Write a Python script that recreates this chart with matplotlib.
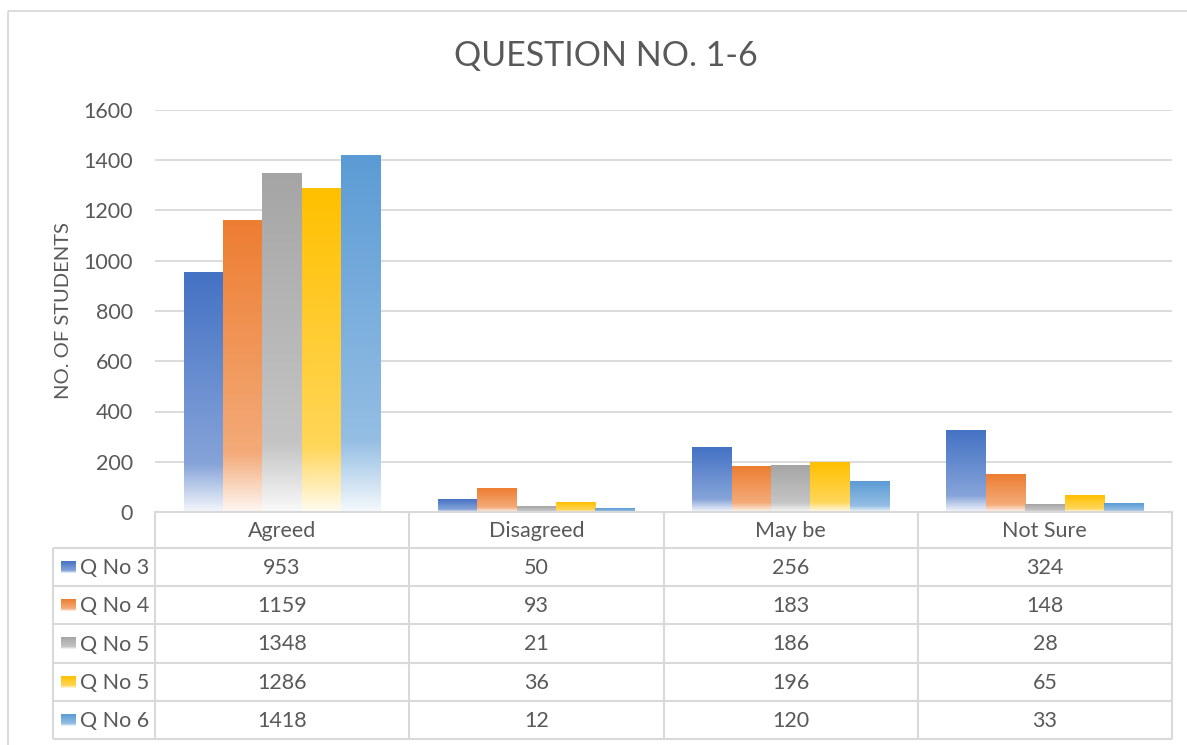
import matplotlib
matplotlib.use("Agg")
import matplotlib.pyplot as plt
import numpy as np
from matplotlib.colors import to_rgb
from matplotlib.patches import Rectangle

plt.rcParams["font.family"] = ["Lato", "DejaVu Sans"]

# data
categories = ["Agreed", "Disagreed", "May be", "Not Sure"]
series_names = ["Q No 3", "Q No 4", "Q No 5", "Q No 5", "Q No 6"]
q3 = [953, 50, 256, 324]
q4 = [1159, 93, 183, 148]
q5a = [1348, 21, 186, 28]
q5b = [1286, 36, 196, 65]
q6 = [1418, 12, 120, 33]
series_values = [q3, q4, q5a, q5b, q6]
colors = ["#4472C4", "#ED7D31", "#A5A5A5", "#FFC000", "#5B9BD5"]

TXT = "#595959"
GRID = "#d9d9d9"
W, H = 1187, 745
FS = 15.5


def gradient(color, n=256):
    """Excel-like fill: solid at top, light towards the bottom."""
    c = np.array(to_rgb(color))
    white = np.ones(3)
    stops = [(0.0, 0.0), (0.8, 0.35), (1.0, 0.94)]
    t = np.linspace(0, 1, n)
    mix = np.interp(t, [s[0] for s in stops], [s[1] for s in stops])
    img = c[None, :] * (1 - mix[:, None]) + white[None, :] * mix[:, None]
    return img[:, None, :]


def px(x0, y0, x1, y1):
    # pixel box (top-left origin) -> figure fraction rect
    return [x0 / W, 1 - y1 / H, (x1 - x0) / W, (y1 - y0) / H]


fig = plt.figure(figsize=(W / 100, H / 100), dpi=100)

# plot area
left, right, top, bottom = 155, 1172, 110, 512
ax = fig.add_axes(px(left, top, right, bottom))
n_cat = len(categories)
n_ser = len(series_values)
group_w = 0.775
bar_w = group_w / n_ser
x = np.arange(n_cat)
for i, (vals, col) in enumerate(zip(series_values, colors)):
    offs = -group_w / 2 + i * bar_w
    for xi, v in zip(x, vals):
        x0 = xi + offs
        ax.imshow(gradient(col), extent=[x0, x0 + bar_w, 0, v], aspect="auto",
                  interpolation="bilinear", zorder=2)
ax.set_xlim(-0.5, n_cat - 0.5)
ax.set_ylim(0, 1600)
ax.set_yticks(np.arange(0, 1601, 200))
ax.yaxis.grid(True, color=GRID, linewidth=1.3, zorder=0)
ax.set_axisbelow(True)
ax.set_xticks([])
for s in ["top", "right", "left"]:
    ax.spines[s].set_visible(False)
ax.spines["bottom"].set_color(GRID)
ax.spines["bottom"].set_linewidth(1.5)
ax.tick_params(axis="y", length=0, labelsize=FS, labelcolor=TXT, pad=16)
ax.set_ylabel("NO. OF STUDENTS", fontsize=14.5, color=TXT)
ax.yaxis.set_label_coords(-0.082, 0.5)

# overlay for title, border and data table (pixel coordinates)
ov = fig.add_axes([0, 0, 1, 1], zorder=5)
ov.set_xlim(0, W)
ov.set_ylim(H, 0)
ov.axis("off")
ov.patch.set_alpha(0)

ov.add_patch(Rectangle((8, 11), W + 20, H + 20, fill=False, edgecolor=GRID, lw=1.3))
ov.text(W / 2 + 12, 56, "QUESTION NO. 1-6", ha="center", va="center", fontsize=24.5,
        color=TXT)

col_w = (right - left) / n_cat
header_top, header_bot = 512, 548
row_h = (739 - 548) / n_ser
leg_left = 53
lc = dict(color=GRID, lw=1.5, solid_capstyle="butt")

# vertical lines
ov.plot([left, left], [header_top, 739], **lc)
ov.plot([leg_left, leg_left], [header_bot, 739], **lc)
for k in range(1, n_cat + 1):
    xx = left + k * col_w
    ov.plot([xx, xx], [header_top, 739], **lc)
# horizontal lines
for r in range(n_ser + 1):
    yy = header_bot + r * row_h
    ov.plot([leg_left, right], [yy, yy], **lc)

for k, cat in enumerate(categories):
    ov.text(left + (k + 0.5) * col_w, (header_top + header_bot) / 2 + 1, cat,
            ha="center", va="center", fontsize=FS, color=TXT)

for r, (name, vals, col) in enumerate(zip(series_names, series_values, colors)):
    yc = header_bot + (r + 0.5) * row_h
    ov.imshow(gradient(col), extent=[61, 76, yc + 6, yc - 6], aspect="auto",
              interpolation="bilinear", zorder=3)
    ov.text(80, yc + 1, name, ha="left", va="center", fontsize=FS, color=TXT)
    for k, v in enumerate(vals):
        ov.text(left + (k + 0.5) * col_w, yc + 1, str(v), ha="center", va="center",
                fontsize=FS, color=TXT)
ov.set_xlim(0, W)
ov.set_ylim(H, 0)

fig.savefig("out.png", dpi=100)
